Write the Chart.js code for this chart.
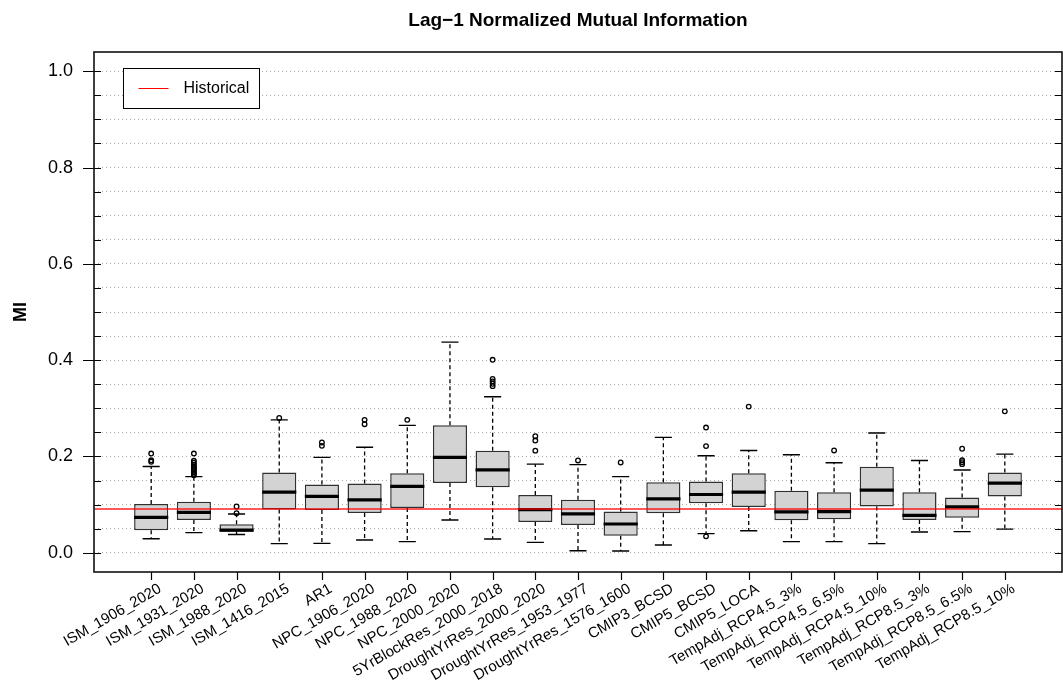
<!DOCTYPE html>
<html>
<head>
<meta charset="utf-8">
<title>Lag-1 Normalized Mutual Information</title>
<script src="https://cdn.jsdelivr.net/npm/chart.js@4.4.1/dist/chart.umd.min.js"></script>
<style>
  html, body { margin: 0; padding: 0; background: #ffffff; }
  canvas { display: block; }
</style>
</head>
<body>
<canvas id="chart" width="1063" height="682"></canvas>
<script>
// Ensemble groups shown along the x axis
const categories = [
  'ISM_1906_2020', 'ISM_1931_2020', 'ISM_1988_2020', 'ISM_1416_2015', 'AR1',
  'NPC_1906_2020', 'NPC_1988_2020', 'NPC_2000_2020', '5YrBlockRes_2000_2018',
  'DroughtYrRes_2000_2020', 'DroughtYrRes_1953_1977', 'DroughtYrRes_1576_1600',
  'CMIP3_BCSD', 'CMIP5_BCSD', 'CMIP5_LOCA',
  'TempAdj_RCP4.5_3%', 'TempAdj_RCP4.5_6.5%', 'TempAdj_RCP4.5_10%',
  'TempAdj_RCP8.5_3%', 'TempAdj_RCP8.5_6.5%', 'TempAdj_RCP8.5_10%'
];

// Box-and-whisker statistics of lag-1 MI for each group
const whiskerLow  = [0.029, 0.0417, 0.038, 0.019, 0.0194, 0.0264, 0.023, 0.068, 0.0285, 0.0215, 0.004, 0.0035, 0.016, 0.0396, 0.0458, 0.023, 0.023, 0.019, 0.043, 0.0438, 0.049];
const quartile1   = [0.0465, 0.068, 0.0437, 0.090, 0.0889, 0.0826, 0.093, 0.145, 0.136, 0.0639, 0.0576, 0.0354, 0.082, 0.1028, 0.095, 0.0674, 0.0694, 0.0958, 0.068, 0.0729, 0.1167];
const medians     = [0.0736, 0.084, 0.047, 0.126, 0.117, 0.110, 0.138, 0.198, 0.172, 0.0896, 0.0806, 0.0597, 0.112, 0.121, 0.1257, 0.0847, 0.0854, 0.130, 0.0778, 0.0951, 0.1444];
const quartile3   = [0.1014, 0.106, 0.059, 0.1667, 0.1417, 0.144, 0.165, 0.265, 0.212, 0.120, 0.110, 0.0854, 0.1465, 0.148, 0.165, 0.129, 0.1257, 0.1785, 0.1257, 0.1146, 0.1667];
const whiskerHigh = [0.179, 0.158, 0.0806, 0.276, 0.198, 0.219, 0.2646, 0.4375, 0.324, 0.184, 0.183, 0.158, 0.2396, 0.2014, 0.2125, 0.2035, 0.1868, 0.2486, 0.1917, 0.172, 0.2049];
const outliers = [
  [0.189, 0.192, 0.206],
  [0.161, 0.164, 0.167, 0.170, 0.173, 0.176, 0.179, 0.183, 0.187, 0.191, 0.206],
  [0.082, 0.096],
  [0.280],
  [0.222, 0.229],
  [0.267, 0.276],
  [0.276],
  [],
  [0.346, 0.351, 0.356, 0.361, 0.4007],
  [0.212, 0.233, 0.242],
  [0.1917],
  [0.1875],
  [],
  [0.034, 0.2215, 0.260],
  [0.3035],
  [],
  [0.2125],
  [],
  [],
  [0.184, 0.188, 0.192, 0.216],
  [0.2937]
];

// Observed (historical) lag-1 MI
const historicalMI = 0.091;

// Axis ticks
const yTickValues = [0.0, 0.2, 0.4, 0.6, 0.8, 1.0];
const yTickLabels = ['0.0', '0.2', '0.4', '0.6', '0.8', '1.0'];
const gridValues = [0.00, 0.05, 0.10, 0.15, 0.20, 0.25, 0.30, 0.35, 0.40, 0.45, 0.50,
                    0.55, 0.60, 0.65, 0.70, 0.75, 0.80, 0.85, 0.90, 0.95, 1.00];

const FONT = "'Liberation Sans', Arial, Helvetica, sans-serif";
Chart.defaults.font.family = FONT;
Chart.defaults.color = '#000000';

const X_MIN = -0.34, X_MAX = categories.length + 1.34;

// Whiskers, caps and medians on top of the boxes
const boxDecor = {
  id: 'boxDecor',
  afterDatasetDraw(chart, args) {
    if (args.index !== 0) return;
    const { ctx, chartArea } = chart;
    const xs = chart.scales.x, ys = chart.scales.y;
    const meta = chart.getDatasetMeta(0);
    ctx.save();
    ctx.beginPath();
    ctx.rect(chartArea.left, chartArea.top, chartArea.right - chartArea.left, chartArea.bottom - chartArea.top);
    ctx.clip();
    categories.forEach((_, i) => {
      const bar = meta.data[i];
      const half = bar.getProps(['width'], true).width / 2;
      const cx = xs.getPixelForValue(i + 1);
      const yLow = ys.getPixelForValue(whiskerLow[i]);
      const yQ1 = ys.getPixelForValue(quartile1[i]);
      const yMed = ys.getPixelForValue(medians[i]);
      const yQ3 = ys.getPixelForValue(quartile3[i]);
      const yHigh = ys.getPixelForValue(whiskerHigh[i]);

      // dashed whiskers
      ctx.strokeStyle = '#000000';
      ctx.lineWidth = 1.3;
      ctx.setLineDash([4, 3]);
      ctx.beginPath();
      ctx.moveTo(cx, yQ3); ctx.lineTo(cx, yHigh);
      ctx.moveTo(cx, yQ1); ctx.lineTo(cx, yLow);
      ctx.stroke();

      // caps
      ctx.setLineDash([]);
      ctx.lineWidth = 1.4;
      ctx.beginPath();
      ctx.moveTo(cx - half / 2, yHigh); ctx.lineTo(cx + half / 2, yHigh);
      ctx.moveTo(cx - half / 2, yLow); ctx.lineTo(cx + half / 2, yLow);
      ctx.stroke();

      // median
      ctx.lineWidth = 3.2;
      ctx.lineCap = 'butt';
      ctx.beginPath();
      ctx.moveTo(cx - half, yMed); ctx.lineTo(cx + half, yMed);
      ctx.stroke();
    });
    ctx.restore();
  }
};

// Frame, tick marks, title, axis title and legend
const frameAndLabels = {
  id: 'frameAndLabels',
  afterDraw(chart) {
    const { ctx, chartArea } = chart;
    const xs = chart.scales.x, ys = chart.scales.y;
    const { left, right, top, bottom } = chartArea;
    ctx.save();
    ctx.strokeStyle = '#000000';
    ctx.setLineDash([]);

    // tick marks on the y axis: inward on both sides, outward at labelled values
    ctx.lineWidth = 1.2;
    ctx.beginPath();
    gridValues.forEach(v => {
      const y = Math.round(ys.getPixelForValue(v)) + 0.5;
      ctx.moveTo(left, y); ctx.lineTo(left + 7, y);
      ctx.moveTo(right, y); ctx.lineTo(right - 7, y);
    });
    yTickValues.forEach(v => {
      const y = Math.round(ys.getPixelForValue(v)) + 0.5;
      ctx.moveTo(left - 11, y); ctx.lineTo(left, y);
    });
    ctx.stroke();

    // tick marks on the x axis
    ctx.beginPath();
    categories.forEach((_, i) => {
      const x = Math.round(xs.getPixelForValue(i + 1)) + 0.5;
      ctx.moveTo(x, bottom); ctx.lineTo(x, bottom + 8);
    });
    ctx.stroke();

    // plot frame
    ctx.lineWidth = 1.6;
    ctx.strokeStyle = '#111111';
    ctx.strokeRect(left, top, right - left, bottom - top);

    // title
    ctx.fillStyle = '#000000';
    ctx.font = 'bold 19px ' + FONT;
    ctx.textAlign = 'center';
    ctx.textBaseline = 'middle';
    ctx.fillText('Lag\u22121 Normalized Mutual Information', (left + right) / 2, 21);

    // y axis title
    ctx.save();
    ctx.translate(21, (top + bottom) / 2);
    ctx.rotate(-Math.PI / 2);
    ctx.font = 'bold 18px ' + FONT;
    ctx.fillText('MI', 0, 0);
    ctx.restore();

    // legend
    const lx = left + 29.5, ly = top + 16.5;
    ctx.lineWidth = 1;
    ctx.strokeStyle = '#000000';
    ctx.fillStyle = '#ffffff';
    ctx.fillRect(lx, ly, 136, 40);
    ctx.strokeRect(lx, ly, 136, 40);
    ctx.strokeStyle = '#ff0000';
    ctx.beginPath();
    ctx.moveTo(lx + 15, ly + 20); ctx.lineTo(lx + 45, ly + 20);
    ctx.stroke();
    ctx.fillStyle = '#000000';
    ctx.font = '16px ' + FONT;
    ctx.textAlign = 'left';
    ctx.textBaseline = 'middle';
    ctx.fillText('Historical', lx + 60, ly + 20.5);
    ctx.restore();
  }
};

const boxData = categories.map((_, i) => ({ x: i + 1, y: [quartile1[i], quartile3[i]] }));
const outlierData = [];
outliers.forEach((vals, i) => vals.forEach(v => outlierData.push({ x: i + 1, y: v })));

new Chart(document.getElementById('chart'), {
  type: 'bar',
  data: {
    datasets: [
      {
        type: 'bar',
        label: 'IQR',
        data: boxData,
        backgroundColor: '#d3d3d3',
        borderColor: '#303030',
        borderWidth: 1.5,
        borderSkipped: false,
        categoryPercentage: 1.0,
        barPercentage: 0.8,
        order: 3
      },
      {
        type: 'scatter',
        label: 'Outliers',
        data: outlierData,
        pointStyle: 'circle',
        pointRadius: 2.3,
        pointBorderWidth: 1.3,
        pointBackgroundColor: 'rgba(0,0,0,0)',
        pointBorderColor: '#000000',
        order: 2
      },
      {
        type: 'line',
        label: 'Historical',
        data: [{ x: X_MIN, y: historicalMI }, { x: X_MAX, y: historicalMI }],
        borderColor: 'rgba(255,0,0,0.65)',
        borderWidth: 2,
        pointRadius: 0,
        fill: false,
        order: 1
      }
    ]
  },
  options: {
    responsive: false,
    animation: false,
    devicePixelRatio: 1,
    layout: { autoPadding: false, padding: { top: 52, right: 1, left: 0, bottom: 0 } },
    plugins: {
      legend: { display: false },
      tooltip: { enabled: false },
      title: { display: false }
    },
    scales: {
      x: {
        type: 'linear',
        min: X_MIN,
        max: X_MAX,
        bounds: 'data',
        offset: false,
        grid: { display: false },
        border: { display: false },
        afterBuildTicks: s => { s.ticks = categories.map((_, i) => ({ value: i + 1 })); },
        afterFit: s => { s.height = 110; s.paddingLeft = 0; s.paddingRight = 0; },
        ticks: {
          autoSkip: false,
          minRotation: 30,
          maxRotation: 30,
          padding: 0,
          labelOffset: 9,
          color: '#000000',
          font: { size: 15, family: FONT },
          callback: (v, i) => categories[i]
        }
      },
      y: {
        type: 'linear',
        min: -0.04,
        max: 1.04,
        bounds: 'data',
        afterBuildTicks: s => { s.ticks = gridValues.map(v => ({ value: v })); },
        afterFit: s => { s.width = 94; },
        grid: { color: '#a8a8a8', lineWidth: 1, drawTicks: false },
        border: { display: false, dash: [1, 3] },
        ticks: {
          autoSkip: false,
          padding: 21,
          color: '#000000',
          font: { size: 18, family: FONT },
          callback: v => {
            const k = yTickValues.findIndex(t => Math.abs(t - v) < 1e-9);
            return k >= 0 ? yTickLabels[k] : '';
          }
        }
      }
    }
  },
  plugins: [boxDecor, frameAndLabels]
});
</script>
</body>
</html>
